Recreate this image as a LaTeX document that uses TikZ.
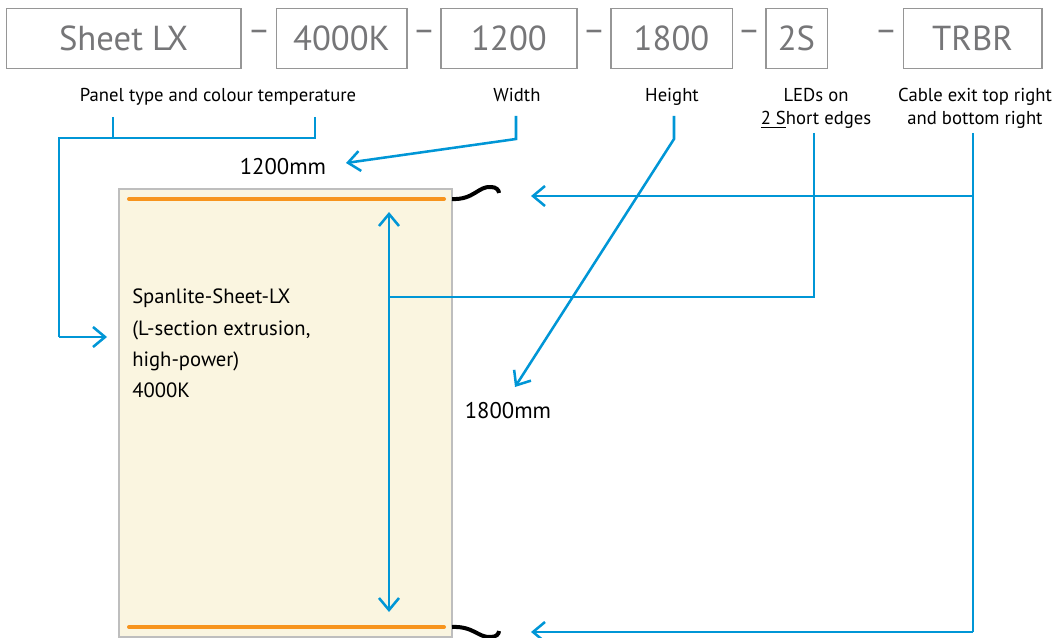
\documentclass[tikz,border=0pt]{standalone}
\usepackage{fontspec}
\setmainfont{PT Sans}
\usetikzlibrary{arrows.meta}
\definecolor{codegray}{RGB}{118,118,120}
\definecolor{boxgray}{RGB}{150,150,150}
\definecolor{callblue}{RGB}{0,150,214}
\definecolor{ledorange}{RGB}{247,148,29}
\definecolor{panelcream}{RGB}{250,245,224}
\definecolor{panelrim}{RGB}{190,190,190}
\tikzset{
    codebox/.style={draw=boxgray,line width=1pt,minimum height=45pt,inner sep=0pt,
        text=codegray,font=\fontsize{26}{32}\selectfont,text depth=1pt},
    codedash/.style={text=codegray,font=\fontsize{26}{32}\selectfont,inner sep=0pt},
    codelabel/.style={font=\fontsize{14}{17.5}\selectfont,align=center,inner sep=0pt,anchor=north},
    call/.style={draw=callblue,line width=1.9pt},
    callarrow/.style={call,-{Straight Barb[length=9pt,width=15pt,line width=1.9pt]}},
    led/.style={draw=ledorange,line width=3pt,line cap=round},
    cablewire/.style={draw=black,line width=3pt}
}
\begin{document}
\begin{tikzpicture}[x=0.75pt,y=-0.75pt]
    \useasboundingbox (0,0) rectangle (1054,638);

    % order code
    \node[codebox,minimum width=176pt] (type) at (123.5,38.5) {Sheet LX};
    \node[codebox,minimum width=98pt] (temp) at (341.5,38.5) {4000K};
    \node[codebox,minimum width=102pt] (width) at (509,38.5) {1200};
    \node[codebox,minimum width=91pt] (height) at (671.5,38.5) {1800};
    \node[codebox,minimum width=46pt] (leds) at (796.5,38.5) {2S};
    \node[codebox,minimum width=104pt] (cable) at (972.5,38.5) {TRBR};
    \foreach \x in {259,424,594,749,886}
        \node[codedash] at (\x,36) {–};

    % what each part means
    \node[codelabel] (typelab) at (218,88) {Panel type and colour temperature};
    \node[codelabel] (widthlab) at (517,88) {Width};
    \node[codelabel] (heightlab) at (672,88) {Height};
    \node[codelabel] (ledslab) at (816,88) {LEDs on\\\underline{2 S}hort edges};
    \node[codelabel] (cablelab) at (975,88) {Cable exit top right\\and bottom right};

    % panel
    \fill[panelcream,draw=panelrim,line width=1.2pt] (119,189) rectangle (452,637);
    \draw[led] (129,199) -- (444,199);
    \draw[led] (129,627) -- (444,627);
    \draw[cablewire] (452,199) .. controls (474,200) and (478,186) .. (491,187)
        .. controls (496,187) and (499,190) .. (499,193);
    \draw[cablewire] (452,627) .. controls (474,626) and (478,638) .. (491,637)
        .. controls (496,637) and (499,634) .. (499,631);
    \node[anchor=north west,align=left,font=\fontsize{15.5}{23.5}\selectfont,inner sep=0pt] (panel) at (132,289)
        {Spanlite-Sheet-LX\\(L-section extrusion,\\high-power)\\4000K};
    \node[font=\fontsize{17}{20}\selectfont] (widthmm) at (283,167) {1200mm};
    \node[font=\fontsize{17}{20}\selectfont] (heightmm) at (508,411) {1800mm};

    % connectors
    \coordinate (a1) at (113,117);
    \coordinate (a2) at (315,117);
    \coordinate (a3) at (113,138);
    \coordinate (a4) at (315,138);
    \coordinate (a5) at (59,138);
    \coordinate (a6) at (59,337);
    \coordinate (a7) at (107,337);
    \draw[call] (a1) -- (a3);
    \draw[call] (a2) -- (a4) -- (a5) -- (a6);
    \draw[callarrow] (a6) -- (a7);

    \coordinate (w1) at (516,116);
    \coordinate (w2) at (516,139);
    \coordinate (w3) at (346,163);
    \draw[callarrow] (w1) -- (w2) -- (w3);

    \coordinate (h1) at (674,116);
    \coordinate (h2) at (674,139);
    \coordinate (h3) at (515,387);
    \draw[callarrow] (h1) -- (h2) -- (h3);

    \coordinate (l1) at (814,133);
    \coordinate (l2) at (814,297);
    \coordinate (l3) at (389,297);
    \coordinate (l4) at (389,212);
    \coordinate (l5) at (389,612);
    \draw[call] (l1) -- (l2) -- (l3);
    \draw[call,{Straight Barb[length=9pt,width=15pt,line width=1.9pt]}-{Straight Barb[length=9pt,width=15pt,line width=1.9pt]}] (l4) -- (l5);

    \coordinate (c1) at (973,133);
    \coordinate (c2) at (973,196);
    \coordinate (c3) at (973,632);
    \coordinate (c4) at (531,196);
    \coordinate (c5) at (531,632);
    \draw[call] (c1) -- (c3);
    \draw[callarrow] (c2) -- (c4);
    \draw[callarrow] (c3) -- (c5);
\end{tikzpicture}
\end{document}
